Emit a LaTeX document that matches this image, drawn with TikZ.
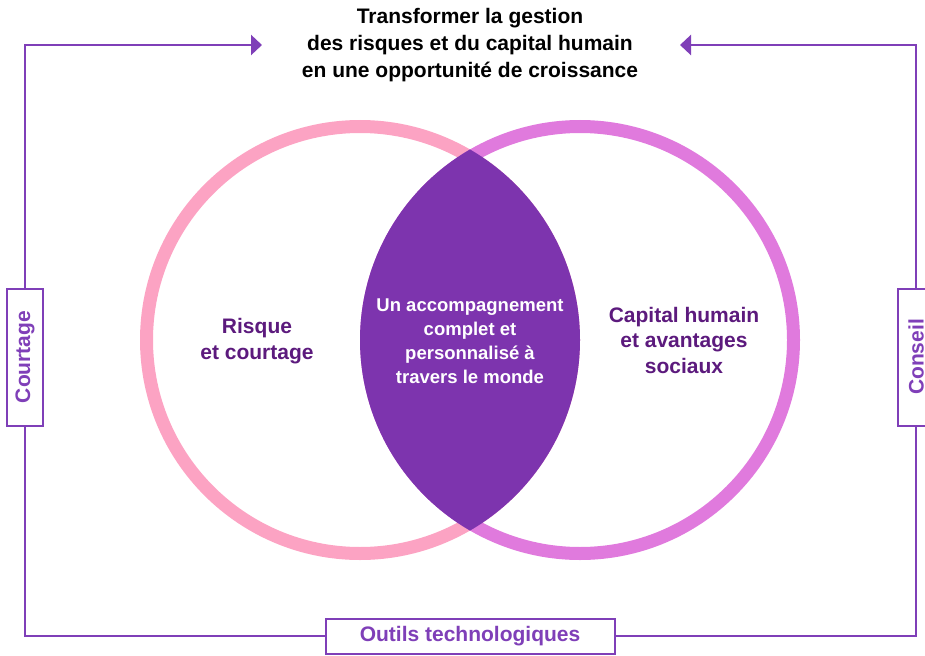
\documentclass[tikz,border=0pt]{standalone}
\usepackage{fontspec}
\setmainfont{Liberation Sans}
\usetikzlibrary{arrows.meta}

\definecolor{cadre}{HTML}{7F3FB8}
\definecolor{rose}{HTML}{FCA3C3}
\definecolor{mauve}{HTML}{E07ADD}
\definecolor{lentille}{HTML}{7D34AE}
\definecolor{texteviolet}{HTML}{5C1A7D}

\begin{document}
\begin{tikzpicture}[x=1pt,y=-1pt,
   txt/.style={align=center,font=\bfseries\fontsize{21}{26}\selectfont},
   boite/.style={draw=cadre,line width=2pt,fill=white,text=cadre,
      font=\bfseries\fontsize{21}{24}\selectfont,inner sep=0pt},
   fleche/.style={draw=cadre,line width=2.5pt,-{Triangle[length=11pt,width=20pt]}},
   trait/.style={draw=cadre,line width=2.5pt}]

\useasboundingbox (0,0) rectangle (925,655);

\coordinate (cL) at (360,340);
\coordinate (cR) at (580,340);

% cercles
\draw[rose,line width=13pt] (cL) circle (213.5);
\draw[mauve,line width=13pt] (cR) circle (213.5);
\begin{scope}
  \clip (cL) circle (220);
  \fill[lentille] (cR) circle (220);
\end{scope}

% textes
\node[txt,font=\bfseries\fontsize{21}{27}\selectfont] (titre) at (470,45) {Transformer la gestion\\des risques et du capital humain\\en une opportunité de croissance};
\node[txt,text=texteviolet] (risque) at (257,341) {Risque\\et courtage};
\node[txt,text=texteviolet,font=\bfseries\fontsize{21}{25.5}\selectfont] (capital) at (684,340) {Capital humain\\et avantages\\sociaux};
\node[align=center,text=white,font=\bfseries\fontsize{18.5}{24}\selectfont] (accomp) at (470,341)
   {Un accompagnement\\complet et\\personnalisé à\\travers le monde};

% cadre
\node[boite,rotate=90,minimum width=137pt,minimum height=36pt] (courtage) at (25,357) {Courtage};
\node[boite,rotate=90,minimum width=137pt,minimum height=36pt] (conseil) at (916,357) {Conseil};
\node[boite,minimum width=289pt,minimum height=35pt] (outils) at (470,636) {Outils technologiques};

\coordinate (pointeG) at (262,45);
\coordinate (pointeD) at (680,45);

\draw[fleche] (courtage.east) |- (pointeG);
\draw[fleche] (conseil.east) |- (pointeD);
\draw[trait] (courtage.west) |- (outils.west);
\draw[trait] (outils.east) -| (conseil.west);
\end{tikzpicture}
\end{document}
